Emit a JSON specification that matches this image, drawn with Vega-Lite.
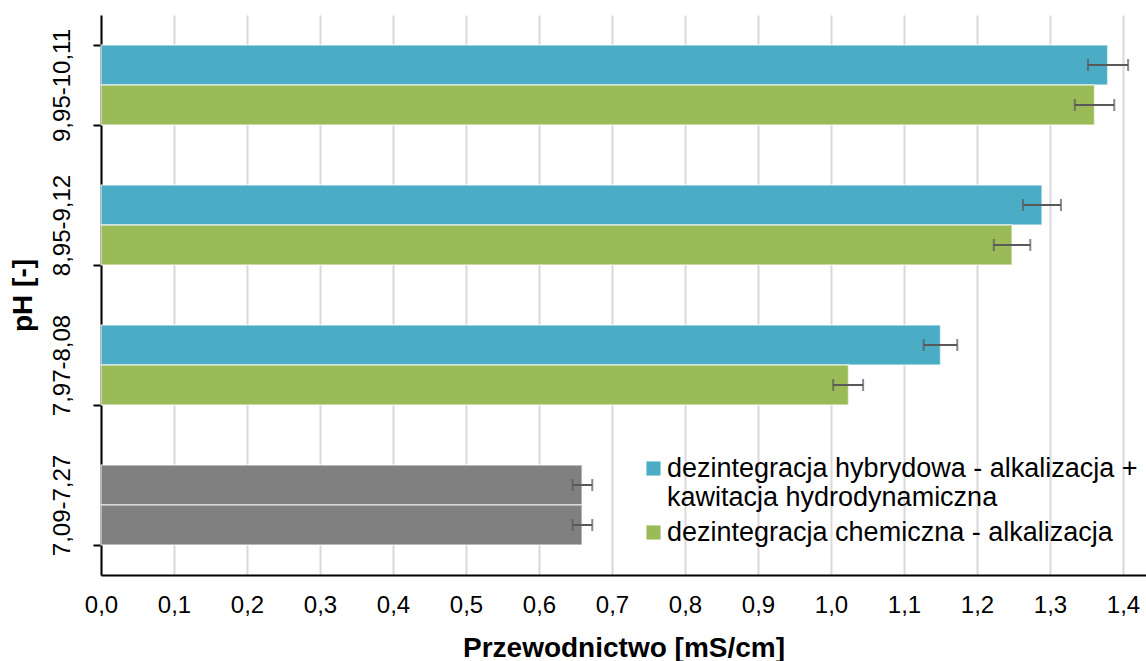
{
  "$schema": "https://vega.github.io/schema/vega-lite/v6.json",
  "width": 1045,
  "height": 560,
  "autosize": "none",
  "padding": {"left": 101, "top": 15, "right": 0, "bottom": 86},
  "background": "white",
  "config": {
    "view": {"stroke": null},
    "font": "Liberation Sans"
  },
  "data": {
    "values": [
      {"ph": "9,95-10,11", "series": "dezintegracja hybrydowa - alkalizacja + kawitacja hydrodynamiczna", "value": 1.379, "lo": 1.352, "hi": 1.407},
      {"ph": "9,95-10,11", "series": "dezintegracja chemiczna - alkalizacja", "value": 1.361, "lo": 1.334, "hi": 1.388},
      {"ph": "8,95-9,12", "series": "dezintegracja hybrydowa - alkalizacja + kawitacja hydrodynamiczna", "value": 1.289, "lo": 1.263, "hi": 1.315},
      {"ph": "8,95-9,12", "series": "dezintegracja chemiczna - alkalizacja", "value": 1.248, "lo": 1.223, "hi": 1.273},
      {"ph": "7,97-8,08", "series": "dezintegracja hybrydowa - alkalizacja + kawitacja hydrodynamiczna", "value": 1.150, "lo": 1.127, "hi": 1.173},
      {"ph": "7,97-8,08", "series": "dezintegracja chemiczna - alkalizacja", "value": 1.024, "lo": 1.003, "hi": 1.044},
      {"ph": "7,09-7,27", "series": "dezintegracja hybrydowa - alkalizacja + kawitacja hydrodynamiczna", "value": 0.659, "lo": 0.646, "hi": 0.673},
      {"ph": "7,09-7,27", "series": "dezintegracja chemiczna - alkalizacja", "value": 0.659, "lo": 0.646, "hi": 0.673}
    ]
  },
  "encoding": {
    "y": {
      "field": "ph",
      "type": "nominal",
      "sort": ["9,95-10,11", "8,95-9,12", "7,97-8,08", "7,09-7,27"],
      "scale": {"paddingInner": 0.4286, "paddingOuter": 0.2143},
      "axis": {
        "title": "pH [-]",
        "titleFont": "Liberation Sans",
        "titleFontSize": 28,
        "titleFontWeight": "bold",
        "titleColor": "#000000",
        "titlePadding": 13,
        "labelAngle": -90,
        "labelAlign": "center",
        "labelBaseline": "bottom",
        "labelFont": "Liberation Sans",
        "labelFontSize": 24,
        "labelColor": "#000000",
        "labelPadding": 19,
        "domainColor": "#000000",
        "domainWidth": 2,
        "tickColor": "#000000",
        "tickWidth": 2,
        "tickSize": 8,
        "tickBand": "extent",
        "grid": false
      }
    },
    "yOffset": {
      "field": "series",
      "type": "nominal",
      "sort": ["dezintegracja hybrydowa - alkalizacja + kawitacja hydrodynamiczna", "dezintegracja chemiczna - alkalizacja"]
    }
  },
  "layer": [
    {
      "mark": {"type": "bar", "stroke": "#ffffff", "strokeOpacity": 0.6, "strokeWidth": 1.5},
      "encoding": {
        "x": {
          "field": "value",
          "type": "quantitative",
          "scale": {"domain": [0, 1.4315], "nice": false, "zero": true},
          "axis": {
            "title": "Przewodnictwo [mS/cm]",
            "titleFont": "Liberation Sans",
            "titleFontSize": 28,
            "titleFontWeight": "bold",
            "titleColor": "#000000",
            "titlePadding": 17,
            "values": [0, 0.1, 0.2, 0.3, 0.4, 0.5, 0.6, 0.7, 0.8, 0.9, 1.0, 1.1, 1.2, 1.3, 1.4],
            "labelExpr": "replace(format(datum.value, '.1f'), '.', ',')",
            "labelFont": "Liberation Sans",
            "labelFontSize": 24,
            "labelColor": "#000000",
            "labelPadding": 18,
            "labelFlush": false,
            "ticks": false,
            "domainColor": "#000000",
            "domainWidth": 2,
            "grid": true,
            "gridColor": "#d9d9d9",
            "gridWidth": 2
          }
        },
        "color": {
          "field": "series",
          "type": "nominal",
          "scale": {
            "domain": ["dezintegracja hybrydowa - alkalizacja + kawitacja hydrodynamiczna", "dezintegracja chemiczna - alkalizacja"],
            "range": ["#4bacc6", "#9bbb59"]
          },
          "condition": {"test": "datum.ph === '7,09-7,27'", "value": "#808080"},
          "legend": {
            "title": null,
            "orient": "none",
            "legendX": 539,
            "legendY": 440,
            "symbolType": "square",
            "symbolSize": 200,
            "symbolStrokeWidth": 0,
            "symbolOpacity": 1,
            "labelFont": "Liberation Sans",
            "labelFontSize": 27,
            "labelColor": "#000000",
            "labelOffset": 0,
            "labelLimit": 700,
            "rowPadding": 7,
            "labelExpr": "datum.label === 'dezintegracja hybrydowa - alkalizacja + kawitacja hydrodynamiczna' ? ['dezintegracja hybrydowa - alkalizacja +', 'kawitacja hydrodynamiczna'] : datum.label"
          }
        }
      }
    },
    {
      "mark": {"type": "rule", "color": "#595959", "strokeWidth": 2},
      "encoding": {
        "x": {"field": "lo", "type": "quantitative"},
        "x2": {"field": "hi"}
      }
    },
    {
      "mark": {"type": "tick", "color": "#595959", "thickness": 2, "size": 12},
      "encoding": {
        "x": {"field": "lo", "type": "quantitative"}
      }
    },
    {
      "mark": {"type": "tick", "color": "#595959", "thickness": 2, "size": 12},
      "encoding": {
        "x": {"field": "hi", "type": "quantitative"}
      }
    }
  ]
}
